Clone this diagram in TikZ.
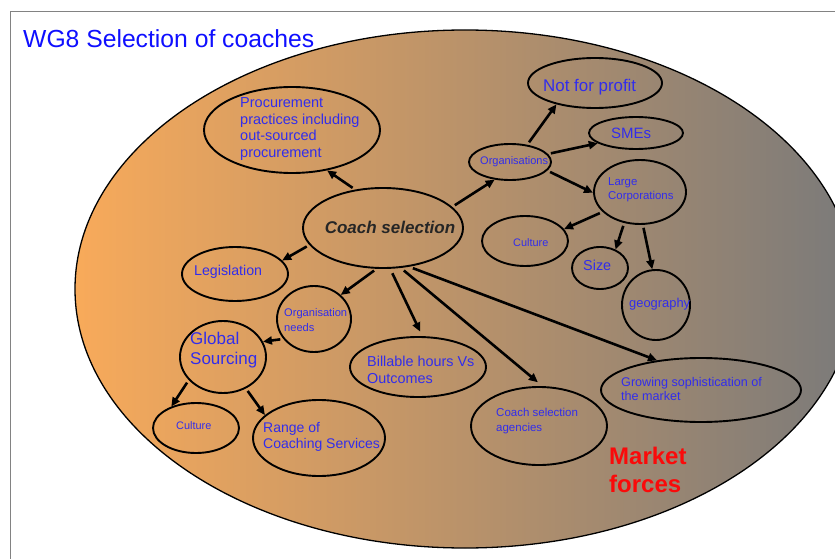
\documentclass[tikz,border=0pt]{standalone}
\usepackage{fontspec}
\setmainfont{Liberation Sans}
\usetikzlibrary{arrows.meta,shapes.geometric}
\definecolor{txtblue}{RGB}{50,45,235}
\definecolor{ttlblue}{RGB}{15,15,255}
\definecolor{orng}{RGB}{248,170,90}
\definecolor{grayr}{RGB}{122,122,122}
\definecolor{mkred}{RGB}{250,10,10}
\definecolor{framegray}{RGB}{130,130,130}
\begin{document}
\begin{tikzpicture}[x=1pt,y=-1pt,
  bub/.style={draw=black, line width=1.9pt, ellipse, inner sep=0pt},
  lbl/.style={text=txtblue, anchor=west, align=left, inner sep=0pt},
  arr/.style={line width=2.6pt, -{Triangle[length=9pt,width=8pt]}, shorten <=3pt}]
\useasboundingbox (0,0) rectangle (835,559);
\begin{scope}
\clip (0,0) rectangle (835,559);
\path[draw=black, line width=1.3pt, left color=orng, right color=grayr] (465,289) ellipse [x radius=390pt, y radius=259pt];
\end{scope}
\draw[framegray, line width=1pt] (835,12) -- (10,12) -- (10,559);
\node[anchor=base west, inner sep=0pt, text=ttlblue, font=\fontsize{24.7}{28}\selectfont] (title) at (23,47.5) {WG8 Selection of coaches};

% ellipses
\node[bub, minimum width=176pt, minimum height=86pt] (proc) at (292,130) {};
\node[bub, minimum width=160pt, minimum height=80pt] (coach) at (383,228) {};
\node[bub, minimum width=106pt, minimum height=54pt] (legis) at (235,274) {};
\node[bub, minimum width=74pt, minimum height=66pt] (orgneeds) at (314,319) {};
\node[bub, minimum width=86pt, minimum height=72pt] (glob) at (223,357) {};
\node[bub, minimum width=86pt, minimum height=50pt] (cultL) at (196,428) {};
\node[bub, minimum width=132pt, minimum height=76pt] (range) at (319,438) {};
\node[bub, minimum width=136pt, minimum height=60pt] (bill) at (418,367) {};
\node[bub, minimum width=136pt, minimum height=78pt] (agency) at (539,426) {};
\node[bub, minimum width=200pt, minimum height=64pt] (grow) at (701,390) {};
\node[bub, minimum width=82pt, minimum height=36pt] (orgs) at (510,162) {};
\node[bub, minimum width=134pt, minimum height=50pt] (nfp) at (595,83) {};
\node[bub, minimum width=94pt, minimum height=32pt] (smes) at (636,133) {};
\node[bub, minimum width=92pt, minimum height=64pt] (large) at (640,192) {};
\node[bub, minimum width=86pt, minimum height=50pt] (cultR) at (525,241) {};
\node[bub, minimum width=56pt, minimum height=42pt] (size) at (600,268) {};
\node[bub, minimum width=68pt, minimum height=70pt] (geo) at (656,305) {};

% texts
\node[lbl, font=\fontsize{14.5}{16.7}\selectfont] (procT) at (240,129) {Procurement\\practices including\\out-sourced\\procurement};
\node[inner sep=0pt, text=black!85, font=\bfseries\itshape\fontsize{17}{20}\selectfont] (coachT) at (390,227) {Coach selection};
\node[lbl, font=\fontsize{14.2}{16}\selectfont] (legisT) at (194,272) {Legislation};
\node[lbl, font=\fontsize{11.1}{14.3}\selectfont] (orgneedsT) at (284,320) {Organisation\\needs};
\node[lbl, font=\fontsize{17}{19.5}\selectfont] (globT) at (190,350) {Global\\Sourcing};
\node[lbl, font=\fontsize{10.9}{13}\selectfont] (cultLT) at (176,426) {Culture};
\node[lbl, font=\fontsize{14}{16}\selectfont] (rangeT) at (263,437) {Range of\\Coaching Services};
\node[lbl, font=\fontsize{14.4}{16.7}\selectfont] (billT) at (367,370) {Billable hours Vs\\Outcomes};
\node[lbl, font=\fontsize{11.5}{14.7}\selectfont] (agencyT) at (496,421) {Coach selection\\agencies};
\node[lbl, font=\fontsize{12.6}{14.5}\selectfont] (growT) at (621,389) {Growing sophistication of\\the market};
\node[lbl, text=mkred, font=\bfseries\fontsize{24}{28}\selectfont] (market) at (609,470) {Market\\forces};
\node[lbl, font=\fontsize{11}{13}\selectfont] (orgsT) at (480,162) {Organisations};
\node[lbl, font=\fontsize{16.9}{19}\selectfont] (nfpT) at (543,87) {Not for profit};
\node[lbl, font=\fontsize{15}{17}\selectfont] (smesT) at (611,133) {SMEs};
\node[lbl, font=\fontsize{11.4}{14}\selectfont] (largeT) at (608,190) {Large\\Corporations};
\node[lbl, font=\fontsize{10.9}{13}\selectfont] (cultRT) at (513,243) {Culture};
\node[lbl, font=\fontsize{14.4}{16}\selectfont] (sizeT) at (583,265) {Size};
\node[lbl, font=\fontsize{12.9}{15}\selectfont] (geoT) at (629,304) {geography};

% arrows
\draw[arr] (coach.126) -- (proc.-49);
\draw[arr] (coach.193) -- (legis.16);
\draw[arr] (coach.17) -- (orgs.229);
\draw[arr] (coach.261) -- (orgneeds.42);
\draw[arr, shorten <=5pt, shorten >=5pt] (coach.-80) -- (bill.82);
\draw[arr, shorten <=4pt, shorten >=6pt] (coach.-66) -- (agency.85);
\draw[arr, shorten <=4pt] (coach.-56) -- (grow.146);
\draw[arr] (orgneeds.213) -- (glob.21);
\draw[arr] (glob.214) -- (cultL.139);
\draw[arr] (glob.-54) -- (range.157);
\draw[arr] (orgs.45) -- (nfp.209);
\draw[arr] (orgs.12) -- (smes.195);
\draw[arr] (orgs.-13) -- (large.181);
\draw[arr] (large.208) -- (cultR.17);
\draw[arr] (large.243) -- (size.50);
\draw[arr] (large.-85) -- (geo.96);
\end{tikzpicture}
\end{document}
